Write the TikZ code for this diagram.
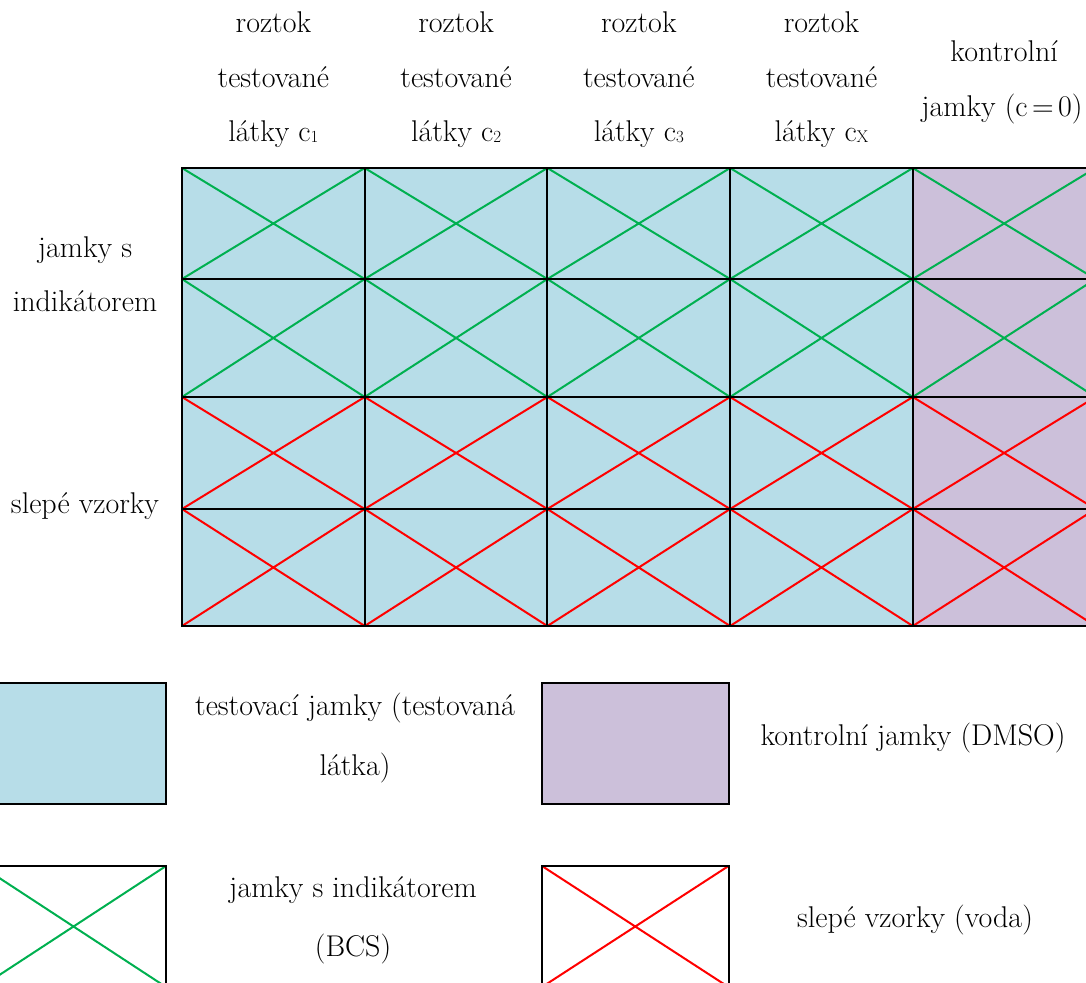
\documentclass[tikz,border=0pt]{standalone}
\usepackage{fontspec}
\definecolor{wellblue}{HTML}{B7DDE8}
\definecolor{wellpurple}{HTML}{CCC0DA}
\definecolor{bcsgreen}{HTML}{00B050}
\definecolor{blankred}{HTML}{FF0000}
\newcommand\wellidx[1]{\raisebox{-1.5pt}{\fontsize{17}{17}\selectfont #1}}
\begin{document}
\begin{tikzpicture}[x=1pt,y=-1pt,
  lbl/.style={anchor=base, inner sep=0pt, font=\fontsize{30}{36}\selectfont},
  gridline/.style={draw=black, line width=2pt},
  gx/.style={draw=bcsgreen, line width=2pt},
  rx/.style={draw=blankred, line width=2pt}]
\useasboundingbox (0,0) rectangle (1086,982);
\clip (0,0) rectangle (1086,982);

% plate fills
\fill[wellblue] (182,168) rectangle (912.8,626);
\fill[wellpurple] (912.8,168) rectangle (1095.5,626);

% diagonals
\foreach \xa/\xb in {182/364.7, 364.7/547.4, 547.4/730.1, 730.1/912.8, 912.8/1095.5} {
  \foreach \ya/\yb in {168/279, 279/397} {
    \draw[gx] (\xa,\ya) -- (\xb,\yb) (\xa,\yb) -- (\xb,\ya);
  }
  \foreach \ya/\yb in {397/509, 509/626} {
    \draw[rx] (\xa,\ya) -- (\xb,\yb) (\xa,\yb) -- (\xb,\ya);
  }
}

% grid lines
\draw[gridline] (182,168) rectangle (1095.5,626);
\foreach \y in {279,397,509} \draw[gridline] (182,\y) -- (1095.5,\y);
\foreach \x in {364.7,547.4,730.1,912.8} \draw[gridline] (\x,168) -- (\x,626);

% column headers
\node[lbl] (h1a) at (273.4,33) {roztok};
\node[lbl] (h1b) at (273.4,88) {testované};
\node[lbl] (h1c) at (273.4,141) {látky c\wellidx{1}};
\node[lbl] (h2a) at (456.1,33) {roztok};
\node[lbl] (h2b) at (456.1,88) {testované};
\node[lbl] (h2c) at (456.1,141) {látky c\wellidx{2}};
\node[lbl] (h3a) at (638.8,33) {roztok};
\node[lbl] (h3b) at (638.8,88) {testované};
\node[lbl] (h3c) at (638.8,141) {látky c\wellidx{3}};
\node[lbl] (h4a) at (821.5,33) {roztok};
\node[lbl] (h4b) at (821.5,88) {testované};
\node[lbl] (h4c) at (821.5,141) {látky c\wellidx{X}};
\node[lbl] (h5a) at (1004.2,61) {kontrolní};
\node[lbl] (h5b) at (1002,116) {jamky (c\hspace{0.15em}=\hspace{0.15em}0)};

% row headers
\node[lbl] (r1a) at (85,257) {jamky s};
\node[lbl] (r1b) at (85,311) {indikátorem};
\node[lbl] (r2a) at (85,513) {slepé vzorky};

% legend
\fill[wellblue] (-19,683) rectangle (166,804);
\draw[gridline] (-19,683) rectangle (166,804);
\node[lbl] (l1a) at (355,715) {testovací jamky (testovaná};
\node[lbl] (l1b) at (355,775) {látka)};

\fill[wellpurple] (542,683) rectangle (728.5,804);
\draw[gridline] (542,683) rectangle (728.5,804);
\node[lbl] (l2) at (913,745) {kontrolní jamky (DMSO)};

\draw[gx] (-19,866) -- (166,987) (-19,987) -- (166,866);
\draw[gridline] (-19,866) rectangle (166,987);
\node[lbl] (l3a) at (353,897) {jamky s indikátorem};
\node[lbl] (l3b) at (353,956) {(BCS)};

\draw[rx] (542,866) -- (728.5,987) (542,987) -- (728.5,866);
\draw[gridline] (542,866) rectangle (728.5,987);
\node[lbl] (l4) at (915,927) {slepé vzorky (voda)};
\end{tikzpicture}
\end{document}
